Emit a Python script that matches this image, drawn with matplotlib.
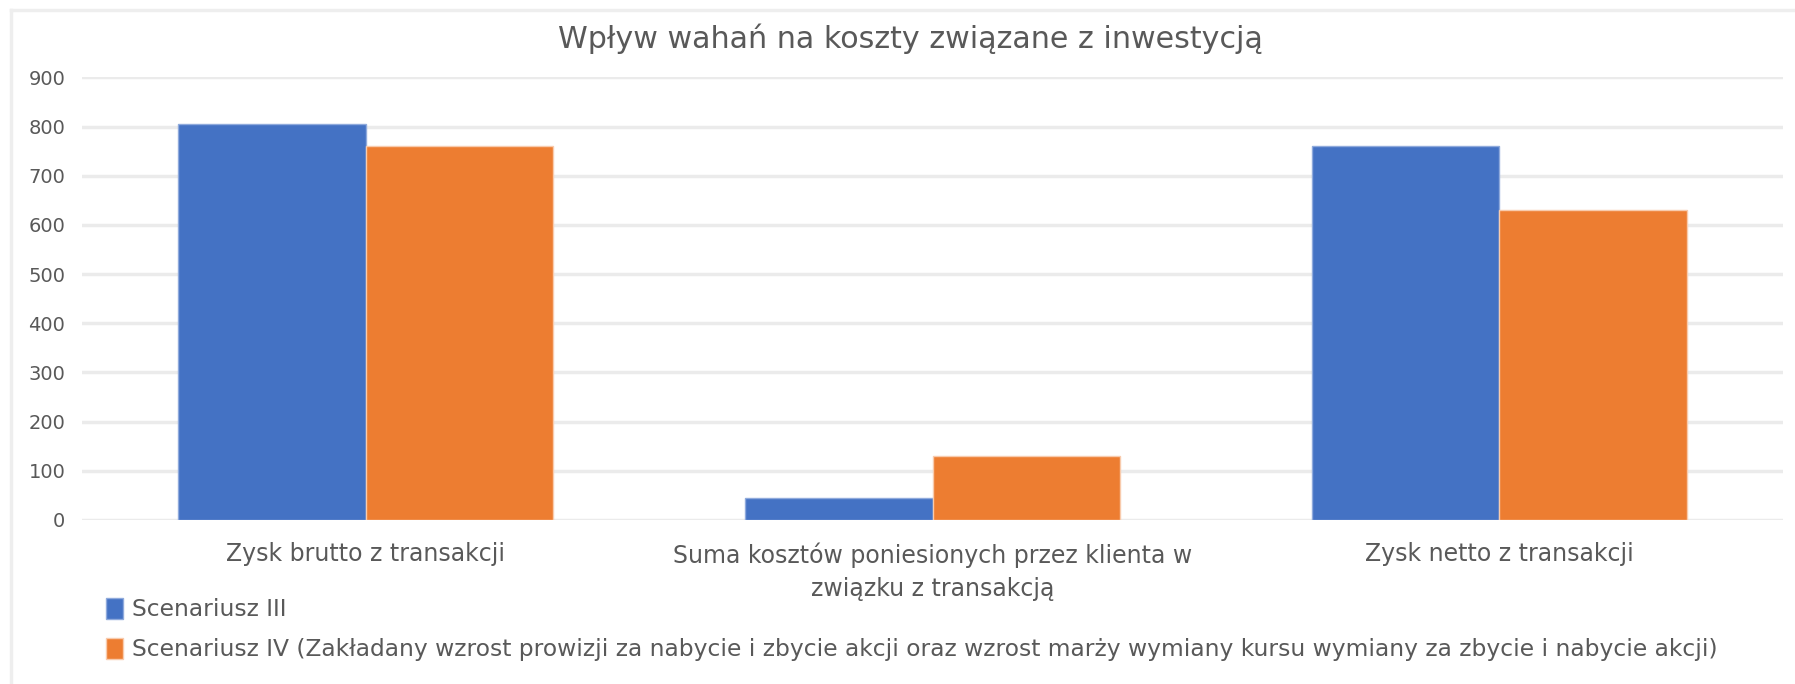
import matplotlib.pyplot as plt
import numpy as np
from matplotlib.patches import Patch
from matplotlib.lines import Line2D

plt.rcParams['font.family'] = ['DejaVu Sans']

# dane
kategorie = ['Zysk brutto z transakcji',
             'Suma kosztów poniesionych przez klienta w\nzwiązku z transakcją',
             'Zysk netto z transakcji']
scenariusz_3 = [805, 44, 760]
scenariusz_4 = [760, 130, 630]
etykiety = ['Scenariusz III',
            'Scenariusz IV (Zakładany wzrost prowizji za nabycie i zbycie akcji oraz wzrost marży wymiany kursu wymiany za zbycie i nabycie akcji)']
tytul = 'Wpływ wahań na koszty związane z inwestycją'

niebieski = '#4472C4'
pomaranczowy = '#ED7D31'
szary = '#595959'

fig = plt.figure(figsize=(17.95, 6.84), dpi=100)
ax = fig.add_axes([0.0457, 0.2398, 0.9476, 0.6469])

x = np.arange(len(kategorie))
w = 0.331
ax.bar(x - w / 2, scenariusz_3, w, color=niebieski, edgecolor='#8faadc', linewidth=1, zorder=3)
ax.bar(x + w / 2, scenariusz_4, w, color=pomaranczowy, edgecolor='#f8cbad', linewidth=1, zorder=3)

ax.set_xlim(-0.5, 2.5)
ax.set_ylim(0, 900)
ax.set_yticks(range(0, 901, 100))
ax.yaxis.grid(True, color='#ebebeb', linewidth=2.5, zorder=0)
ax.set_xticks(x)
ax.set_xticklabels(kategorie, fontsize=17, color=szary, linespacing=1.5)
ax.tick_params(axis='y', labelsize=14, labelcolor=szary, length=0, pad=12)
ax.tick_params(axis='x', length=0, pad=16)
for s in ax.spines.values():
    s.set_visible(False)

fig.text(0.507, 0.944, tytul, ha='center', va='center', fontsize=21.7, color=szary)

# ramka wykresu (góra i lewa krawędź)
fig.add_artist(Line2D([0.006, 1.0], [0.985, 0.985], color='#eeeeee', linewidth=2.5))
fig.add_artist(Line2D([0.006, 0.006], [0.0, 0.985], color='#eeeeee', linewidth=2.5))

uchwyty = [Patch(facecolor=niebieski, edgecolor='#8faadc'),
           Patch(facecolor=pomaranczowy, edgecolor='#f8cbad')]
fig.legend(uchwyty, etykiety, loc='upper left', bbox_to_anchor=(0.0590, 0.126),
           frameon=False, fontsize=16.8, labelcolor=szary, handlelength=0.75,
           handleheight=1.0, handletextpad=0.35, labelspacing=0.72, borderaxespad=0,
           borderpad=0)

fig.savefig('out.png', dpi=100)
